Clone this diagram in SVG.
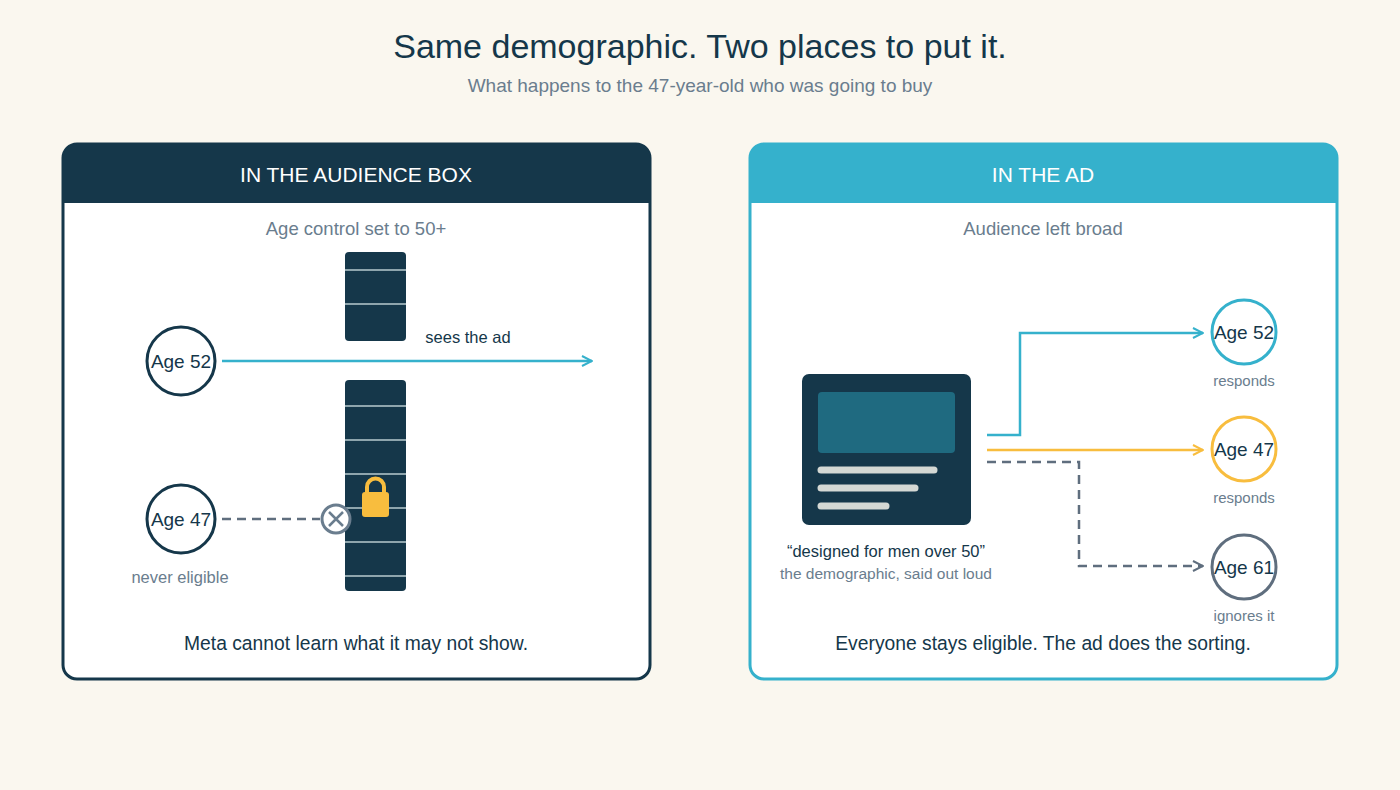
<svg xmlns="http://www.w3.org/2000/svg" width="1400" height="790" viewBox="0 0 1400 790">
<style>
text{font-family:"Liberation Sans",Arial,sans-serif}
.t{fill:#15374a}
.g{fill:#6a7d8e}
.c{fill:#fff;stroke-width:3}
</style>
<defs>
<marker id="ac" viewBox="0 0 12 12" refX="11" refY="6" markerWidth="12" markerHeight="12" markerUnits="userSpaceOnUse" orient="auto"><path d="M1 1 L11 6 L1 11" fill="none" stroke="#35b1cc" stroke-width="2"/></marker>
<marker id="ay" viewBox="0 0 12 12" refX="11" refY="6" markerWidth="12" markerHeight="12" markerUnits="userSpaceOnUse" orient="auto"><path d="M1 1 L11 6 L1 11" fill="none" stroke="#f8bd3e" stroke-width="2"/></marker>
<marker id="ag" viewBox="0 0 12 12" refX="11" refY="6" markerWidth="12" markerHeight="12" markerUnits="userSpaceOnUse" orient="auto"><path d="M1 1 L11 6 L1 11" fill="none" stroke="#5f6e7e" stroke-width="2"/></marker>
</defs>
<rect width="1400" height="790" fill="#faf7ef"/>
<text x="700" y="58" text-anchor="middle" font-size="34" class="t">Same demographic. Two places to put it.</text>
<text x="700" y="92" text-anchor="middle" font-size="19" class="g">What happens to the 47-year-old who was going to buy</text>

<g id="panel-left">
<rect x="63" y="144" width="587" height="535" rx="14" fill="#fff" stroke="#15374a" stroke-width="3"/>
<path d="M63 203 V158 a14 14 0 0 1 14 -14 H636 a14 14 0 0 1 14 14 V203 Z" fill="#15374a"/>
<text x="356" y="182" text-anchor="middle" font-size="21" fill="#fff">IN THE AUDIENCE BOX</text>
<text x="356" y="235" text-anchor="middle" font-size="18.5" class="g">Age control set to 50+</text>
<text x="356" y="650" text-anchor="middle" font-size="19.3" class="t">Meta cannot learn what it may not show.</text>
</g>
<g id="barrier">
<rect x="345" y="252" width="61" height="89" rx="4" fill="#15374a"/>
<rect x="345" y="380" width="61" height="211" rx="4" fill="#15374a"/>
<g stroke="#8ea5ad" stroke-width="2">
<line x1="345" y1="270" x2="406" y2="270"/><line x1="345" y1="304" x2="406" y2="304"/>
<line x1="345" y1="406" x2="406" y2="406"/><line x1="345" y1="440" x2="406" y2="440"/>
<line x1="345" y1="474" x2="406" y2="474"/><line x1="345" y1="508" x2="406" y2="508"/>
<line x1="345" y1="542" x2="406" y2="542"/><line x1="345" y1="576" x2="406" y2="576"/>
</g>
<path d="M367 494 v-7 a8.5 8.5 0 0 1 17 0 v7" fill="none" stroke="#f8bd3e" stroke-width="4"/>
<rect x="362" y="492" width="27" height="25" rx="3" fill="#f8bd3e"/>
</g>
<g id="node-l52"><circle cx="181" cy="361" r="34" class="c" stroke="#15374a"/><text x="181" y="368" text-anchor="middle" font-size="19" class="t">Age 52</text></g>
<g id="node-l47"><circle cx="181" cy="519" r="34" class="c" stroke="#15374a"/><text x="181" y="526" text-anchor="middle" font-size="19" class="t">Age 47</text>
<text x="180" y="583" text-anchor="middle" font-size="16.5" class="g">never eligible</text></g>
<g id="node-x"><circle cx="336" cy="519" r="14" fill="#fff" stroke="#6a7d8e" stroke-width="3"/><path d="M329 512 L343 526 M343 512 L329 526" stroke="#6a7d8e" stroke-width="2.5"/></g>

<g id="panel-right">
<rect x="750" y="144" width="587" height="535" rx="14" fill="#fff" stroke="#35b1cc" stroke-width="3"/>
<path d="M750 203 V158 a14 14 0 0 1 14 -14 H1323 a14 14 0 0 1 14 14 V203 Z" fill="#35b1cc"/>
<text x="1043" y="182" text-anchor="middle" font-size="21" fill="#fff">IN THE AD</text>
<text x="1043" y="235" text-anchor="middle" font-size="18.5" class="g">Audience left broad</text>
<text x="1043" y="650" text-anchor="middle" font-size="19.3" class="t">Everyone stays eligible. The ad does the sorting.</text>
</g>
<g id="node-ad">
<rect x="802" y="374" width="169" height="151" rx="7" fill="#15374a"/>
<rect x="818" y="392" width="137" height="61" rx="4" fill="#1f6a80"/>
<g stroke="#d4d8d4" stroke-width="7" stroke-linecap="round"><line x1="821" y1="470" x2="934" y2="470"/><line x1="821" y1="488" x2="915" y2="488"/><line x1="821" y1="506" x2="886" y2="506"/></g>
<text x="886" y="557" text-anchor="middle" font-size="16.5" class="t">“designed for men over 50”</text>
<text x="886" y="579" text-anchor="middle" font-size="15.5" class="g">the demographic, said out loud</text>
</g>
<g id="node-r52"><circle cx="1244" cy="332" r="32" class="c" stroke="#35b1cc"/><text x="1244" y="339" text-anchor="middle" font-size="19" class="t">Age 52</text><text x="1244" y="386" text-anchor="middle" font-size="15" class="g">responds</text></g>
<g id="node-r47"><circle cx="1244" cy="449" r="32" class="c" stroke="#f8bd3e"/><text x="1244" y="456" text-anchor="middle" font-size="19" class="t">Age 47</text><text x="1244" y="503" text-anchor="middle" font-size="15" class="g">responds</text></g>
<g id="node-r61"><circle cx="1244" cy="567" r="32" class="c" stroke="#5f6e7e"/><text x="1244" y="574" text-anchor="middle" font-size="19" class="t">Age 61</text><text x="1244" y="621" text-anchor="middle" font-size="15" class="g">ignores it</text></g>

<g id="connectors" fill="none" stroke-width="2.5">
<line x1="222" y1="361" x2="592" y2="361" stroke="#35b1cc" marker-end="url(#ac)"/>
<line x1="222" y1="519" x2="320" y2="519" stroke="#5f6e7e" stroke-dasharray="9 6"/>
<path d="M987 435 H1020 V333 H1203" stroke="#35b1cc" marker-end="url(#ac)"/>
<path d="M987 450 H1203" stroke="#f8bd3e" marker-end="url(#ay)"/>
<path d="M987 462 H1079 V566 H1203" stroke="#5f6e7e" stroke-dasharray="9 6" marker-end="url(#ag)"/>
</g>
<text x="468" y="343" text-anchor="middle" font-size="16.5" class="t">sees the ad</text>
</svg>
